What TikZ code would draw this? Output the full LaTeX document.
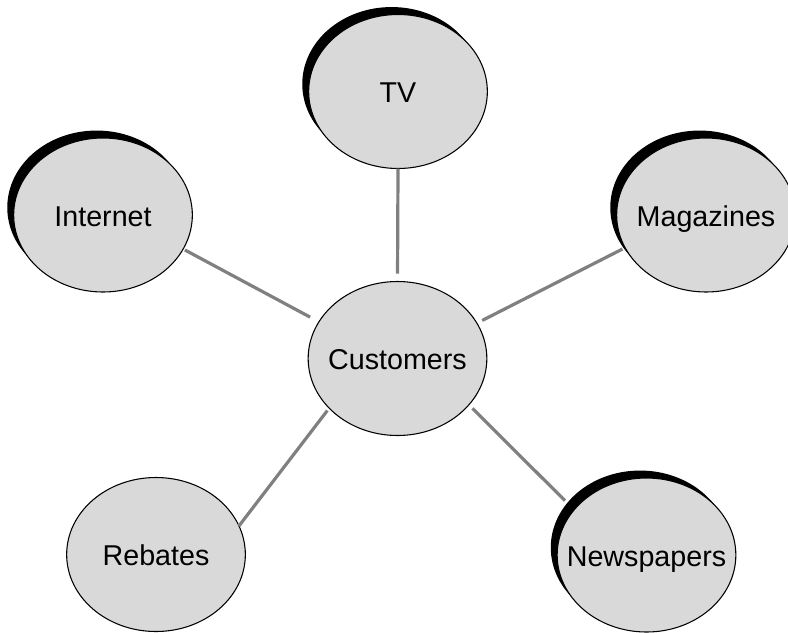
\documentclass[tikz,border=0pt]{standalone}
\usepackage{fontspec}
\setmainfont{Liberation Sans}
\usetikzlibrary{shadows,shapes.geometric}
\definecolor{bubblefill}{HTML}{D9D9D9}
\definecolor{linkgray}{HTML}{808080}
\begin{document}
\begin{tikzpicture}[x=0.75pt,y=-0.75pt,
  bubble/.style={ellipse,draw=black,line width=0.8pt,fill=bubblefill,
    minimum width=134pt,minimum height=115.5pt,inner sep=0pt,outer sep=0pt},
  shadowed/.style={general shadow={shadow xshift=-4.8pt,shadow yshift=5.6pt,fill=black}},
  every label/.style={font=\fontsize{21.5pt}{24pt}\selectfont,text=black,inner sep=0pt,
    text height=15.4pt,text depth=0pt,yshift=-0.6pt},
  link/.style={draw=linkgray,line width=2.4pt}]
\useasboundingbox (0,0) rectangle (788,632);
\begin{scope}
\clip (0,0) rectangle (788,632);
\node[bubble,label={center:Customers}] (cust) at (397.5,358.5) {};
\node[bubble,shadowed,label={center:TV}] (tv) at (398,91.5) {};
\node[bubble,shadowed,label={center:Internet}] (inet) at (103,215) {};
\node[bubble,shadowed,label={center:Magazines}] (mag) at (706,215) {};
\node[bubble,label={center:Rebates}] (reb) at (156,554.5) {};
\node[bubble,shadowed,label={center:Newspapers}] (news) at (646.5,555) {};
\draw[link,shorten <=6pt] (cust.90) -- (tv.-90);
\draw[link,shorten <=7.5pt,shorten >=1.5pt] (cust.155.4) -- (inet.-23.7);
\draw[link,shorten <=4.5pt,shorten >=2.25pt] (cust.24.5) -- (mag.202.3);
\draw[link,shorten <=2.25pt] (cust.216) -- (reb.19.4);
\draw[link,shorten <=3.75pt,shorten >=9.75pt] (cust.-33.2) -- (news.148.1);
\end{scope}
\end{tikzpicture}
\end{document}
